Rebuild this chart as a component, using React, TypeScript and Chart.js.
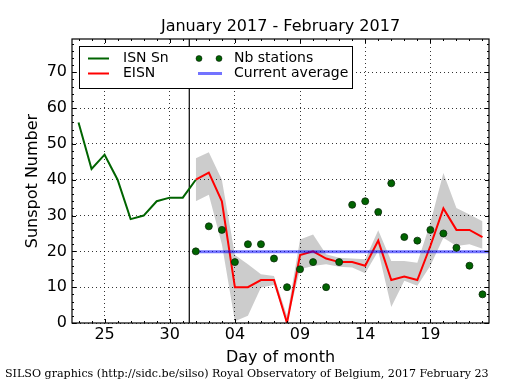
import React, { useEffect, useRef } from "react";
import { Chart, registerables } from "chart.js";

Chart.register(...registerables);

// Day index: January days 1..31, February d -> 31 + d
const isnDays = [23, 24, 25, 26, 27, 28, 29, 30, 31, 32];
const isnValues = [56, 43, 47, 40, 29, 30, 34, 35, 35, 40];

const febDays = [32, 33, 34, 35, 36, 37, 38, 39, 40, 41, 42, 43, 44, 45, 46, 47, 48, 49, 50, 51, 52, 53, 54];
const eisnValues = [40, 42, 34, 10, 10, 12, 12, 0, 19, 20, 18, 17, 17, 16, 23, 12, 13, 12, 21.5, 32, 26, 26, 24];
const eisnUpper = [46, 47.7, 40, 19, 16.4, 13.6, 13.1, 2, 23.3, 24.7, 19.2, 18.2, 18, 17.8, 25.9, 17.3, 17.3, 16.8, 28, 41.9, 32.1, 30.3, 28.4];
const eisnLower = [34, 35.8, 22, 0.5, 2, 9.9, 10.6, 0, 15, 15.9, 16.4, 15.7, 15.5, 13.9, 20.1, 4.5, 11.8, 10.4, 16, 23.8, 21.5, 22, 20.7];
const nbStations = [20, 27, 26, 17, 22, 22, 18, 10, 15, 17, 10, 17, 33, 34, 31, 39, 24, 23, 26, 25, 21, 16, 8];

const currentAverage = 19.9;
const averageSpan = [32, 54.5];
const separatorDay = 31.5;

const xRange = [22.5, 54.5];
const yRange = [0, 79.3];
const xTickValues = [25, 30, 35, 40, 45, 50];
const xTickLabels = ["25", "30", "04", "09", "14", "19"];
const yTickValues = [0, 10, 20, 30, 40, 50, 60, 70];
const yTickLabels = ["0", "10", "20", "30", "40", "50", "60", "70"];

const titleText = "January 2017 - February 2017";
const xTitle = "Day of month";
const yTitle = "Sunspot Number";
const footerText = "SILSO graphics (http://sidc.be/silso) Royal Observatory of Belgium, 2017 February 23";
const legendLabels = ["ISN Sn", "EISN", "Nb stations", "Current average"];

const FONT = "'DejaVu Sans', sans-serif";
const GREEN = "#006400";
const RED = "#ff0000";
const BLUE = "rgba(0,0,255,0.55)";
const GRAY = "rgba(0,0,0,0.2)";

const pts = (xs: number[], ys: number[]) => xs.map((x, i) => ({ x, y: ys[i] }));

const decor = {
  id: "decor",
  afterDraw(chart: any) {
    const ctx = chart.ctx as CanvasRenderingContext2D;
    const { left, right, top, bottom } = chart.chartArea;
    const xs = chart.scales.x;
    const ys = chart.scales.y;
    ctx.save();
    // ticks (inward, all four sides)
    ctx.strokeStyle = "#000";
    ctx.lineWidth = 1;
    ctx.beginPath();
    for (let d = Math.ceil(xRange[0]); d <= xRange[1]; d++) {
      const px = Math.round(xs.getPixelForValue(d)) + 0.5;
      const len = xTickValues.includes(d) ? 4 : 2;
      ctx.moveTo(px, bottom);
      ctx.lineTo(px, bottom - len);
      ctx.moveTo(px, top);
      ctx.lineTo(px, top + len);
    }
    for (let v = 0; v <= yRange[1]; v += 2) {
      const py = Math.round(ys.getPixelForValue(v)) + 0.5;
      const len = v % 10 === 0 ? 4 : 2;
      ctx.moveTo(left, py);
      ctx.lineTo(left + len, py);
      ctx.moveTo(right, py);
      ctx.lineTo(right - len, py);
    }
    ctx.stroke();
    // frame
    ctx.lineWidth = 1.2;
    ctx.strokeRect(left, top, right - left, bottom - top);

    // titles
    ctx.fillStyle = "#000";
    ctx.font = `16px ${FONT}`;
    ctx.textAlign = "center";
    ctx.textBaseline = "alphabetic";
    ctx.fillText(titleText, (left + right) / 2, 31);
    ctx.fillText(xTitle, (left + right) / 2, 362);
    ctx.save();
    ctx.translate(37, (top + bottom) / 2);
    ctx.rotate(-Math.PI / 2);
    ctx.fillText(yTitle, 0, 0);
    ctx.restore();

    // footer, fitted to width
    ctx.textAlign = "left";
    ctx.font = `10px 'DejaVu Serif', serif`;
    const w = ctx.measureText(footerText).width;
    const size = (10 * 484) / w;
    ctx.font = `${size.toFixed(2)}px 'DejaVu Serif', serif`;
    ctx.fillText(footerText, 5, 377);

    // legend
    const lx = 79.5, ly = 46.5, lw = 273, lh = 42;
    ctx.fillStyle = "#fff";
    ctx.fillRect(lx, ly, lw, lh);
    ctx.strokeStyle = "#000";
    ctx.lineWidth = 1;
    ctx.strokeRect(lx, ly, lw, lh);
    const r1 = 58.5, r2 = 73.5;
    ctx.lineWidth = 2;
    ctx.strokeStyle = GREEN;
    ctx.beginPath(); ctx.moveTo(88, r1); ctx.lineTo(109, r1); ctx.stroke();
    ctx.strokeStyle = RED;
    ctx.beginPath(); ctx.moveTo(88, r2); ctx.lineTo(109, r2); ctx.stroke();
    ctx.strokeStyle = BLUE;
    ctx.lineWidth = 3;
    ctx.beginPath(); ctx.moveTo(198, r2); ctx.lineTo(222, r2); ctx.stroke();
    ctx.fillStyle = GREEN;
    ctx.strokeStyle = "#000";
    ctx.lineWidth = 0.5;
    for (const cx of [199, 219]) {
      ctx.beginPath(); ctx.arc(cx, r1, 3, 0, Math.PI * 2); ctx.fill(); ctx.stroke();
    }
    ctx.fillStyle = "#000";
    ctx.font = `14px ${FONT}`;
    ctx.textBaseline = "middle";
    ctx.fillText(legendLabels[0], 123, r1);
    ctx.fillText(legendLabels[1], 123, r2);
    ctx.fillText(legendLabels[2], 234, r1);
    ctx.fillText(legendLabels[3], 234, r2);
    ctx.restore();
  },
};

export default function App() {
  const ref = useRef<HTMLCanvasElement | null>(null);
  useEffect(() => {
    if (!ref.current) return;
    const tickFont = { family: FONT, size: 16 };
    const chart = new Chart(ref.current, {
      type: "line",
      data: {
        datasets: [
          {
            label: "upper",
            data: pts(febDays, eisnUpper),
            borderWidth: 0,
            borderColor: "rgba(0,0,0,0)",
            backgroundColor: GRAY,
            pointRadius: 0,
            fill: "+1",
            order: 6,
          },
          {
            label: "lower",
            data: pts(febDays, eisnLower),
            borderWidth: 0,
            borderColor: "rgba(0,0,0,0)",
            pointRadius: 0,
            fill: false,
            order: 5,
          },
          {
            label: "separator",
            data: [{ x: separatorDay, y: yRange[0] }, { x: separatorDay, y: yRange[1] }],
            borderColor: "#000",
            borderWidth: 1.2,
            pointRadius: 0,
            fill: false,
            order: 4,
          },
          {
            label: "EISN",
            data: pts(febDays, eisnValues),
            borderColor: RED,
            borderWidth: 2,
            pointRadius: 0,
            fill: false,
            order: 3,
          },
          {
            label: "ISN Sn",
            data: pts(isnDays, isnValues),
            borderColor: GREEN,
            borderWidth: 2,
            pointRadius: 0,
            fill: false,
            order: 2,
          },
          {
            label: "Current average",
            data: [{ x: averageSpan[0], y: currentAverage }, { x: averageSpan[1], y: currentAverage }],
            borderColor: BLUE,
            borderWidth: 3,
            pointRadius: 0,
            fill: false,
            order: 1,
          },
          {
            label: "Nb stations",
            data: pts(febDays, nbStations),
            showLine: false,
            pointRadius: 3.5,
            pointBackgroundColor: GREEN,
            pointBorderColor: "#0a2a0a",
            pointBorderWidth: 0.8,
            borderColor: GREEN,
            fill: false,
            order: 0,
          },
        ],
      },
      options: {
        responsive: false,
        animation: false,
        events: [],
        layout: { padding: { left: 0, top: 39, right: 26, bottom: 0 } },
        plugins: {
          legend: { display: false },
          tooltip: { enabled: false },
          title: { display: false },
        },
        scales: {
          x: {
            type: "linear",
            min: xRange[0],
            max: xRange[1],
            afterBuildTicks: (s: any) => {
              s.ticks = xTickValues.map((v) => ({ value: v }));
            },
            afterFit: (s: any) => {
              s.height = 67;
            },
            ticks: {
              callback: (_v: any, i: number) => xTickLabels[i],
              font: tickFont,
              color: "#000",
              padding: 2,
              maxRotation: 0,
              autoSkip: false,
            },
            grid: { color: "#000", lineWidth: 0.8, drawTicks: false },
            border: { display: false, dash: [1, 3] },
          },
          y: {
            type: "linear",
            min: yRange[0],
            max: yRange[1],
            afterBuildTicks: (s: any) => {
              s.ticks = yTickValues.map((v) => ({ value: v }));
            },
            afterFit: (s: any) => {
              s.width = 72;
            },
            ticks: {
              callback: (_v: any, i: number) => yTickLabels[i],
              font: tickFont,
              color: "#000",
              padding: 5,
              autoSkip: false,
            },
            grid: { color: "#000", lineWidth: 0.8, drawTicks: false },
            border: { display: false, dash: [1, 3] },
          },
        },
      },
      plugins: [decor],
    } as any);
    return () => chart.destroy();
  }, []);
  return (
    <div style={{ position: "fixed", left: 0, top: 0, width: 515, height: 390, background: "#fff" }}>
      <canvas ref={ref} width={515} height={390} style={{ display: "block", width: 515, height: 390 }} />
    </div>
  );
}
